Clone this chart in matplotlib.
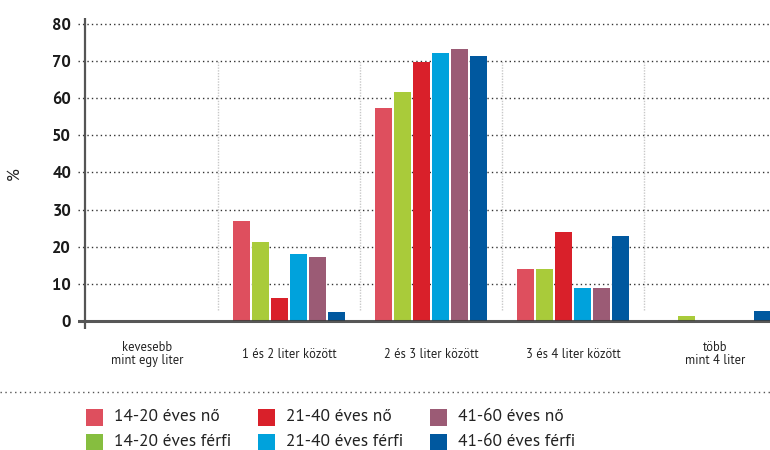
import matplotlib
matplotlib.use("Agg")
import matplotlib.pyplot as plt
from matplotlib.lines import Line2D
from matplotlib.patches import Rectangle
import numpy as np

# napi folyadékfogyasztás korcsoport és nem szerint (%)
categories = ["kevesebb\nmint egy liter", "1 és 2 liter között", "2 és 3 liter között",
              "3 és 4 liter között", "több\nmint 4 liter"]
series = ["14-20 éves nő", "14-20 éves férfi", "21-40 éves nő",
          "21-40 éves férfi", "41-60 éves nő", "41-60 éves férfi"]
values = [
    [0, 27.0, 57.3, 14.0, 0],    # 14-20 nő
    [0, 21.2, 61.8, 14.0, 1.3],  # 14-20 férfi
    [0, 6.2, 69.7, 24.0, 0],     # 21-40 nő
    [0, 18.0, 72.2, 9.0, 0],     # 21-40 férfi
    [0, 17.2, 73.2, 9.0, 0],     # 41-60 nő
    [0, 2.5, 71.3, 22.8, 2.8],   # 41-60 férfi
]
yticks = [0, 10, 20, 30, 40, 50, 60, 70, 80]

colors = ["#de4f5e", "#a9cb3a", "#d9202a", "#00a2dc", "#9b5b75", "#00589f"]
legend_colors = ["#de4f5e", "#86be3f", "#d9202a", "#00a2dc", "#9b5b75", "#00589f"]

plt.rcParams["font.family"] = ["PT Sans", "DejaVu Sans"]
W, H = 770, 450

fig = plt.figure(figsize=(W / 100, H / 100), dpi=100)

# axes box in pixels: x 78..770, y 18..329 (0 -> 321, 80 -> 24)
px = (321 - 24) / 80
ybot, ytop = -(329.2 - 321) / px, 80 + (24 - 18.06) / px
ax = fig.add_axes([78 / W, (H - 329.2) / H, 692 / W, (329.2 - 18.06) / H])
x0, step = 147, 142
ax.set_xlim((78 - x0) / step, (770 - x0) / step)
ax.set_ylim(ybot, ytop)
for s in ax.spines.values():
    s.set_visible(False)

x = np.arange(len(categories))
pitch, width = 0.134, 0.12
for k, (vals, c) in enumerate(zip(values, colors)):
    ax.bar(x + (k - 2.5) * pitch, vals, width=width, color=c, zorder=3)

for y in yticks[1:]:
    ax.axhline(y, color="#333333", lw=1.0, ls=(0, (1, 2.2)), zorder=2)
ax.axhline(0, color="#3a3a3a", lw=2.2, alpha=0.85, zorder=4)
ax.axvline((85 - x0) / step, color="#555555", lw=1.6, zorder=4)
ax.vlines(x[:-1] + 0.5, 3, 70, color="#c8c8c8", lw=1, ls=(0, (1, 1)), zorder=1)

ax.set_xticks([])
ax.set_yticks(yticks)
ax.set_yticklabels([str(v) for v in yticks], fontweight="bold",
                   fontsize=12, color="#1a1a1a")
ax.tick_params(axis="y", length=0, pad=5)

for xi, lab in zip(x, categories):
    ax.text(xi, -(354 - 321) / px, lab, ha="center", va="center", fontsize=9,
            color="#222222", linespacing=0.95, clip_on=False)

fig.text(15 / W, 1 - 174 / H, "%", rotation=90, ha="center", va="center",
         fontsize=12, color="#222222")

fig.add_artist(Line2D([0, 1], [1 - 392 / H] * 2, transform=fig.transFigure,
                      color="#555555", lw=1, ls=(0, (1, 2.5))))

# legend: three columns, two rows
col_x = [86, 258, 430]
row_y = [417, 442]
for k, (name, c) in enumerate(zip(series, legend_colors)):
    cx, cy = col_x[k // 2], row_y[k % 2]
    fig.add_artist(Rectangle((cx / W, 1 - (cy + 8.5) / H), 17 / W, 17 / H,
                             transform=fig.transFigure, color=c, lw=0))
    fig.text((cx + 28) / W, 1 - cy / H, name, ha="left", va="center",
             fontsize=12.5, color="#222222")

fig.savefig("out.png", dpi=100)
